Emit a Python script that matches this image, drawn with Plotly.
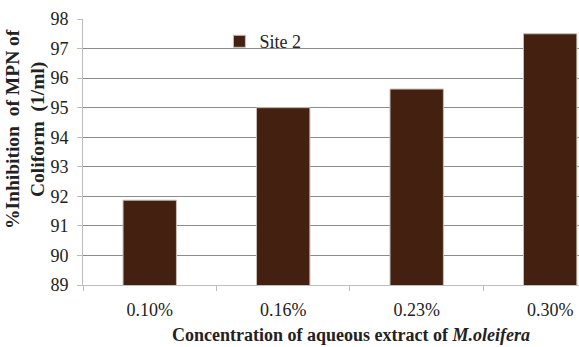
import plotly.graph_objects as go

categories = ["0.10%", "0.16%", "0.23%", "0.30%"]
site2 = [91.87, 95.0, 95.63, 97.5]
series_name = "Site 2"
y_ticks = [89, 90, 91, 92, 93, 94, 95, 96, 97, 98]

FF = "'Times New Roman', Times, serif"

fig = go.Figure()
fig.add_trace(go.Bar(
    x=categories, y=site2, name=series_name,
    marker=dict(color="#43200F", line=dict(color="#c9bdb5", width=1)),
    width=0.4,
))

fig.update_layout(
    width=579, height=347,
    margin=dict(l=83, r=0, t=19, b=62),
    paper_bgcolor="white", plot_bgcolor="white",
    font=dict(family=FF, size=18, color="#222"),
    showlegend=True,
    legend=dict(x=0.275, y=0.915, xanchor="left", yanchor="middle",
                bgcolor="rgba(0,0,0,0)", font=dict(family=FF, size=18, color="#222"),
                itemwidth=30, tracegroupgap=0),
    xaxis=dict(
        type="category", range=[-0.5, 3.216],
        showline=True, linecolor="#bdbdbd", linewidth=1,
        ticks="outside", tickson="boundaries", ticklen=5, tickcolor="#bdbdbd",
        showgrid=False, tickfont=dict(family=FF, size=18, color="#222"),
        ticklabelstandoff=8,
    ),
    yaxis=dict(
        range=[89, 98], tickvals=y_ticks,
        showline=True, linecolor="#bdbdbd", linewidth=1,
        ticks="outside", ticklen=5, tickcolor="#bdbdbd",
        showgrid=True, gridcolor="#8c8c8c", gridwidth=1,
        tickfont=dict(family=FF, size=18, color="#222"), zeroline=False,
        ticklabelstandoff=5,
    ),
    annotations=[
        dict(text="<b>%Inhibition&nbsp;&nbsp;of MPN of</b><br><b>Coliform&nbsp;&nbsp;(1/ml)</b>",
             xref="paper", yref="paper", x=-83/496 + 25/496, y=(285-129)/266,
             xanchor="center", yanchor="middle", textangle=-90, showarrow=False,
             font=dict(family=FF, size=19.5, color="#222")),
        dict(text="<b>Concentration of aqueous extract of <i>M.oleifera</i></b>",
             xref="paper", yref="paper", x=(351-83)/496, y=(285-335)/266,
             xanchor="center", yanchor="middle", showarrow=False,
             font=dict(family=FF, size=18, color="#222")),
    ],
)

fig.write_html("out.html")
